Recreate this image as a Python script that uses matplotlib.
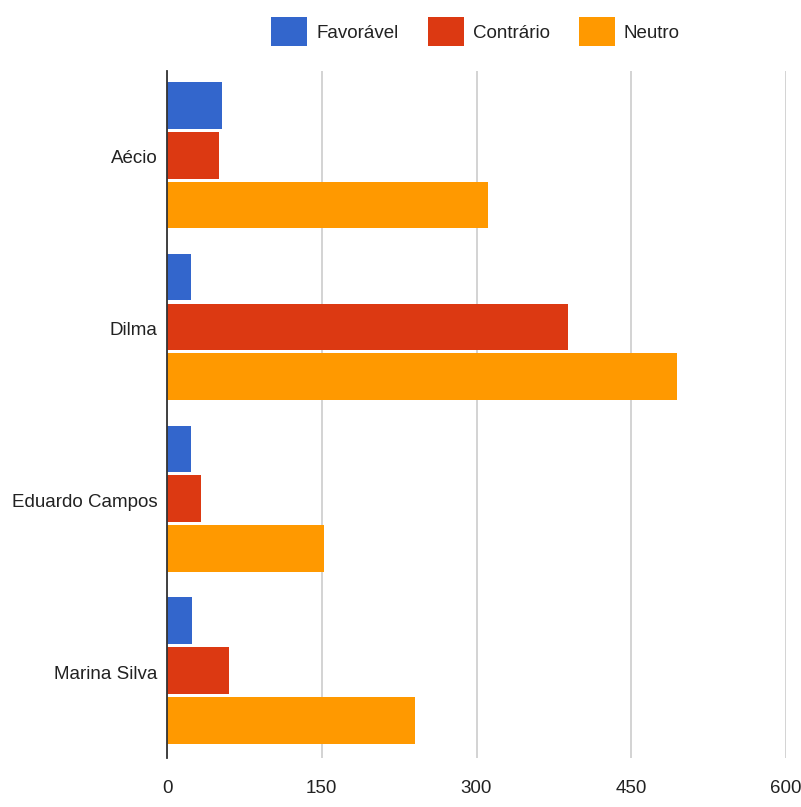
import numpy as np
import matplotlib.pyplot as plt

plt.rcParams['font.family'] = ['Liberation Sans', 'DejaVu Sans']

# --- DATA ---
candidates = ['Aécio', 'Dilma', 'Eduardo Campos', 'Marina Silva']
series_names = ['Favorável', 'Contrário', 'Neutro']
favoravel = [53, 23, 23, 24]
contrario = [50, 389, 33, 60]
neutro = [311, 494, 152, 240]
x_ticks = [0, 150, 300, 450, 600]

colors = ['#3366CC', '#DC3912', '#FF9900']

# --- PLOT ---
fig = plt.figure(figsize=(8.01, 8.07), dpi=100)
ax = fig.add_axes([0.2085, 0.0607, 0.7728, 0.8513])

y = np.arange(len(candidates))
bar_h = 0.272
for i, (vals, name, c) in enumerate(zip([favoravel, contrario, neutro], series_names, colors)):
    ax.barh(y + (i - 1) * (bar_h + 0.018) - 0.01, vals, height=bar_h, color=c,
            label=name, zorder=3)

ax.set_ylim(len(candidates) - 0.5, -0.5)
ax.set_xlim(0, 600)
ax.set_xticks(x_ticks)
ax.set_xticklabels([str(t) for t in x_ticks])
ax.set_yticks(y)
ax.set_yticklabels(candidates)

ax.grid(axis='x', color='#cccccc', linewidth=1.2, zorder=0)
for s in ['top', 'right', 'bottom']:
    ax.spines[s].set_visible(False)
ax.spines['left'].set_color('#333333')
ax.spines['left'].set_linewidth(1.3)
ax.spines['left'].set_zorder(4)
ax.tick_params(axis='both', length=0, labelsize=13.5, labelcolor='#222222')
ax.tick_params(axis='x', pad=16)
ax.tick_params(axis='y', pad=7)

fig.legend(loc='upper center', bbox_to_anchor=(0.5936, 1.0), ncol=3,
           frameon=False, fontsize=13.5, handlelength=1.92, handleheight=2.05,
           handletextpad=0.48, columnspacing=1.55, labelcolor='#222222')

plt.savefig('out.png', dpi=100)
